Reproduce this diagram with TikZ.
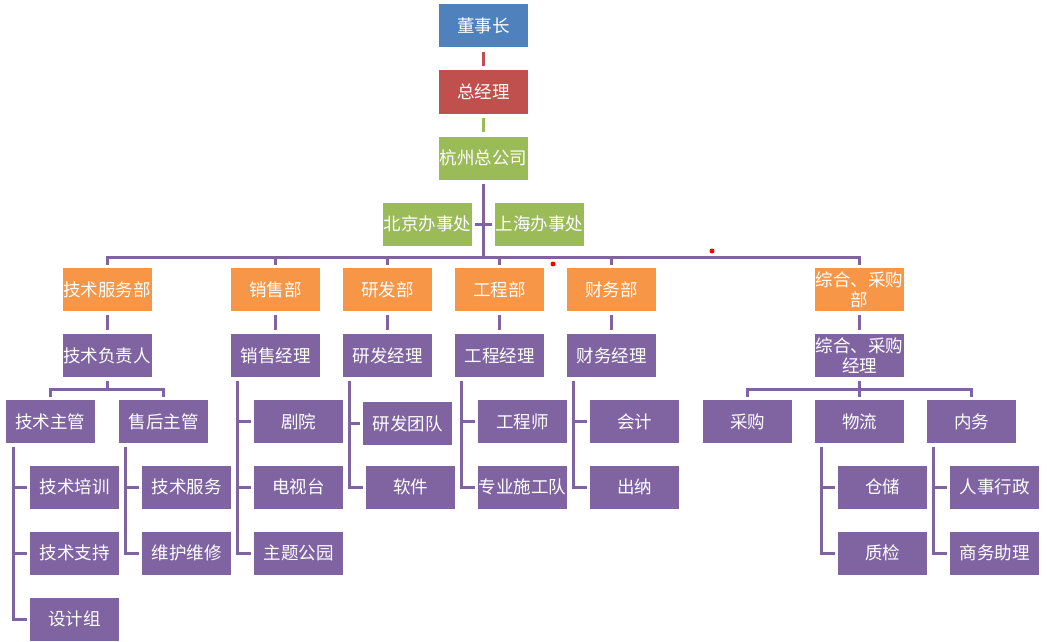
\documentclass[tikz,border=0pt]{standalone}
\usepackage{fontspec}
\setmainfont{Noto Sans CJK SC}
\definecolor{cblue}{HTML}{4F81BD}
\definecolor{cred}{HTML}{C0504D}
\definecolor{cgreen}{HTML}{9BBB59}
\definecolor{corange}{HTML}{F79646}
\definecolor{cpurple}{HTML}{8064A2}
\tikzset{
  box/.style={rectangle, minimum width=89pt, minimum height=43pt, inner sep=0pt, text=white,
    font=\fontsize{17.5}{20}\selectfont, align=center},
  bl/.style={box, fill=cblue},
  rd/.style={box, fill=cred},
  gr/.style={box, fill=cgreen},
  org/.style={box, fill=corange},
  pu/.style={box, fill=cpurple},
  pl/.style={draw=cpurple, line width=3pt},
}
\begin{document}
\begin{tikzpicture}[x=1pt,y=-1pt]
\useasboundingbox (0,0) rectangle (1047,642);
% top
\node[bl] (dsz) at (483.5,26) {董事长};
\node[rd] (zjl) at (483.5,92) {总经理};
\node[gr] (hz) at (483.5,158) {杭州总公司};
\node[gr] (bj) at (427.5,224) {北京办事处};
\node[gr] (sh) at (539.5,224) {上海办事处};
% departments
\node[org] (d1) at (107,289.5) {技术服务部};
\node[org] (d2) at (275.5,289.5) {销售部};
\node[org] (d3) at (387.5,289.5) {研发部};
\node[org] (d4) at (499.5,289.5) {工程部};
\node[org] (d5) at (611.5,289.5) {财务部};
\node[org] (d6) at (859.5,289.5) {综合、采购\\部};
% managers
\node[pu] (m1) at (107,355.5) {技术负责人};
\node[pu] (m2) at (275.5,355.5) {销售经理};
\node[pu] (m3) at (387.5,355.5) {研发经理};
\node[pu] (m4) at (499.5,355.5) {工程经理};
\node[pu] (m5) at (611.5,355.5) {财务经理};
\node[pu] (m6) at (859.5,355.5) {综合、采购\\经理};
% level 3
\node[pu] (a1) at (50.5,421.5) {技术主管};
\node[pu] (a2) at (163.5,421.5) {售后主管};
\node[pu] (s1) at (298.5,421.5) {剧院};
\node[pu] (r1) at (407.5,423.5) {研发团队};
\node[pu] (g1) at (522.5,421.5) {工程师};
\node[pu] (f1) at (634.5,421.5) {会计};
\node[pu] (z1) at (747.5,421.5) {采购};
\node[pu] (z2) at (859.5,421.5) {物流};
\node[pu] (z3) at (971.5,421.5) {内务};
% level 4
\node[pu] (a11) at (74.5,487) {技术培训};
\node[pu] (a21) at (186.5,487) {技术服务};
\node[pu] (s2) at (298.5,487) {电视台};
\node[pu] (r2) at (410.5,487) {软件};
\node[pu] (g2) at (522.5,487) {专业施工队};
\node[pu] (f2) at (634.5,487) {出纳};
\node[pu] (z21) at (882.5,487) {仓储};
\node[pu] (z31) at (994.5,487) {人事行政};
% level 5
\node[pu] (a12) at (74.5,553) {技术支持};
\node[pu] (a22) at (186.5,553) {维护维修};
\node[pu] (s3) at (298.5,553) {主题公园};
\node[pu] (z22) at (882.5,553) {质检};
\node[pu] (z32) at (994.5,553) {商务助理};
% level 6
\node[pu] (a13) at (74.5,619) {设计组};

% top connectors
\draw[draw=cred, line width=3pt, shorten <=4pt, shorten >=4pt] (dsz.south) -- (zjl.north);
\draw[draw=cgreen, line width=3pt, shorten <=4pt, shorten >=4pt] (zjl.south) -- (hz.north);
\coordinate (bus) at (483.5,257);
\draw[pl] ([yshift=-4pt]hz.south) -- (bus);
\draw[pl] ([xshift=3pt]bj.east) -- ([xshift=-3pt]sh.west);
\draw[pl] ([yshift=3pt]d1.north) |- (bus) -| ([yshift=3pt]d6.north);
\foreach \d in {d2,d3,d4,d5} \draw[pl] ([yshift=3pt]\d.north) -- (\d.north |- bus);
% dept -> manager
\foreach \i in {1,...,6} \draw[pl, shorten <=4pt, shorten >=4pt] (d\i.south) -- (m\i.north);
% m1 bus
\coordinate (b1) at (107,389);
\draw[pl] ([yshift=-4pt]m1.south) -- (b1);
\draw[pl] ([yshift=3pt]a1.north) |- (b1) -| ([yshift=3pt]a2.north);
% m6 bus
\coordinate (b6) at (859.5,389);
\draw[pl] ([yshift=-4pt]m6.south) -- ([yshift=3pt]z2.north);
\draw[pl] ([yshift=3pt]z1.north) |- (b6) -| ([yshift=3pt]z3.north);
% side trees
\coordinate (va1) at ([xshift=8pt,yshift=-4pt]a1.south west);
\draw[pl] (va1) |- ([xshift=-3pt]a13.west);
\draw[pl] (va1 |- a11.west) -- ([xshift=-3pt]a11.west);
\draw[pl] (va1 |- a12.west) -- ([xshift=-3pt]a12.west);
\coordinate (va2) at ([xshift=7pt,yshift=-4pt]a2.south west);
\draw[pl] (va2) |- ([xshift=-3pt]a22.west);
\draw[pl] (va2 |- a21.west) -- ([xshift=-3pt]a21.west);
\coordinate (vm2) at ([xshift=7pt,yshift=-4pt]m2.south west);
\draw[pl] (vm2) |- ([xshift=-3pt]s3.west);
\draw[pl] (vm2 |- s1.west) -- ([xshift=-3pt]s1.west);
\draw[pl] (vm2 |- s2.west) -- ([xshift=-3pt]s2.west);
\coordinate (vm3) at ([xshift=7pt,yshift=-4pt]m3.south west);
\draw[pl] (vm3) |- ([xshift=-3pt]r2.west);
\draw[pl] (vm3 |- r1.west) -- ([xshift=-3pt]r1.west);
\coordinate (vm4) at ([xshift=7pt,yshift=-4pt]m4.south west);
\draw[pl] (vm4) |- ([xshift=-3pt]g2.west);
\draw[pl] (vm4 |- g1.west) -- ([xshift=-3pt]g1.west);
\coordinate (vm5) at ([xshift=7pt,yshift=-4pt]m5.south west);
\draw[pl] (vm5) |- ([xshift=-3pt]f2.west);
\draw[pl] (vm5 |- f1.west) -- ([xshift=-3pt]f1.west);
\coordinate (vz2) at ([xshift=7pt,yshift=-4pt]z2.south west);
\draw[pl] (vz2) |- ([xshift=-3pt]z22.west);
\draw[pl] (vz2 |- z21.west) -- ([xshift=-3pt]z21.west);
\coordinate (vz3) at ([xshift=7pt,yshift=-4pt]z3.south west);
\draw[pl] (vz3) |- ([xshift=-3pt]z32.west);
\draw[pl] (vz3 |- z31.west) -- ([xshift=-3pt]z31.west);
% stray red dots
\fill[red] (553,264) circle (2.5);
\fill[red] (712,251) circle (2.5);
\end{tikzpicture}
\end{document}
